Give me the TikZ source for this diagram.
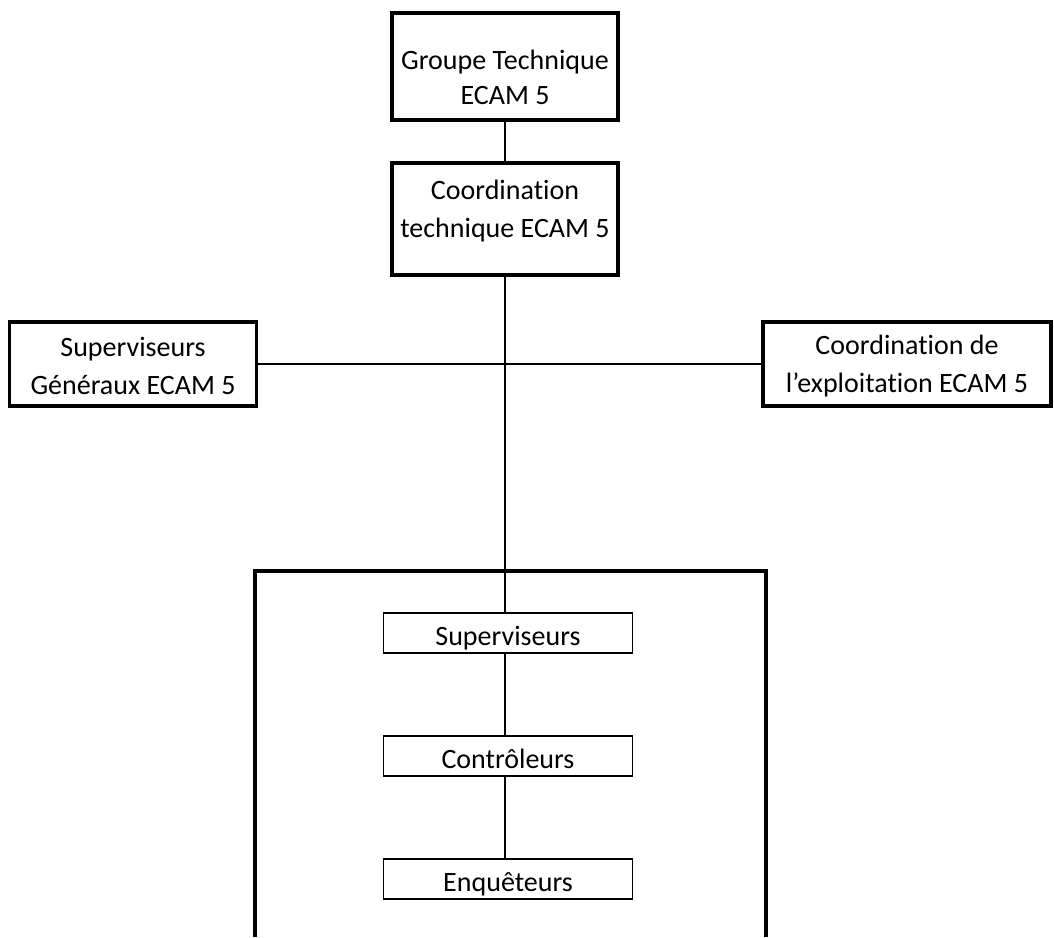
\documentclass[tikz,border=0pt]{standalone}
\usepackage{fontspec}
\setmainfont{Carlito}[Ligatures=NoCommon]
\begin{document}
\begin{tikzpicture}[x=1pt,y=-1pt,
  bigbox/.style={draw, line width=3.5pt, inner sep=0pt, minimum width=#1, minimum height=100pt},
  smallbox/.style={draw, line width=1.8pt, inner sep=0pt, minimum width=249pt, minimum height=40pt},
  lbl/.style={align=center, inner sep=0pt, font=\fontsize{28}{#1}\selectfont},
  lbl/.default=36,
  conn/.style={line width=1.6pt},
  frame/.style={line width=4pt}]
\useasboundingbox (0,0) rectangle (1054,937);
% top boxes
\node[bigbox=226pt, minimum height=107pt] (gt) at (505,66.5) {};
\node[lbl=35] (gtt) at (505,77) {Groupe Technique\\ECAM 5};
\node[bigbox=226pt, minimum height=112pt] (ct) at (505,219) {};
\node[lbl=38] (ctt) at (505,211) {Coordination\\technique ECAM 5};
% side boxes
\node[bigbox=247pt, minimum height=84pt] (sg) at (133,364) {};
\node[lbl=38] (sgt) at (133,366) {Superviseurs\\Généraux ECAM 5};
\node[bigbox=288pt, minimum height=84pt] (ce) at (907,364) {};
\node[lbl=38] (cet) at (907,366) {Coordination de\\l’exploitation ECAM 5};
% lower boxes
\node[smallbox] (sup) at (508,633) {};
\node[lbl] (supt) at (508,638) {Superviseurs};
\node[smallbox] (con) at (508,756) {};
\node[lbl] (cont) at (508,759) {Contrôleurs};
\node[smallbox] (enq) at (508,879) {};
\node[lbl] (enqt) at (508,884) {Enquêteurs};
% bracket
\coordinate (bl) at (255,937);
\coordinate (tl) at (255,571);
\coordinate (tr) at (766,571);
\coordinate (br) at (766,937);
\draw[frame] (bl) -- (tl) -- (tr) -- (br);
% connectors
\draw[conn] (gt.south) -- (ct.north);
\draw[conn] (ct.south) -- (ct.south |- sup.north);
\draw[conn] (sg.east) -- (ce.west);
\draw[conn] (sup.south -| ct.south) -- (con.north -| ct.south);
\draw[conn] (con.south -| ct.south) -- (enq.north -| ct.south);
\end{tikzpicture}
\end{document}
